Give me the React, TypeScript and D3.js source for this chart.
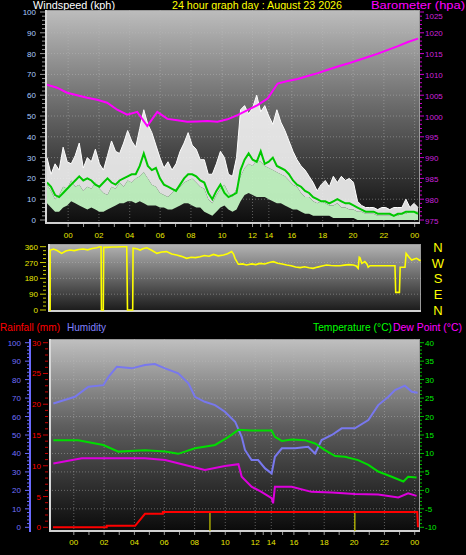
import React from "react";
import * as d3 from "d3";

// ---------- DATA ----------
const xTickLabels = ["00", "02", "04", "06", "08", "10", "12", "14", "16", "18", "20", "22", "00"];
// tick positions in per-mille of the sampled span
const xTickPos = [57, 140, 223, 305, 388, 472, 554, 598, 660, 743, 825, 908, 991];

// wind (kph), evenly sampled across the span
const gust = [30, 22, 27, 24, 35, 28, 27, 31, 37, 25, 30, 28, 34, 27, 24, 31, 38, 33, 32, 37, 43, 38, 35, 44, 53, 46, 42, 36, 30, 25, 28, 24, 27, 33, 37, 42, 36, 34, 29, 29, 22, 22, 27, 33, 30, 22, 21, 30, 53, 55, 51, 54, 60, 52, 55, 50, 46, 53, 47, 43, 38, 33, 29, 26, 24, 21, 18, 14, 17, 19, 16, 21, 18, 21, 19, 20, 18, 9, 7, 6, 6, 6, 5, 6, 6, 5, 6, 6, 6, 10, 6, 8, 6];
const windHigh = [17, 14, 10, 12, 16, 15, 19, 16, 17, 14, 16, 15, 18, 15, 13, 12, 16, 15, 18, 16, 19, 18, 20, 21, 23, 20, 17, 16, 13, 12, 11, 13, 15, 16, 18, 19, 20, 18, 16, 15, 10, 8, 12, 15, 17, 13, 11, 15, 21, 25, 27, 26, 29, 28, 26, 25, 24, 23, 22, 21, 19, 17, 16, 13, 11, 11, 9, 8, 9, 8, 7, 7, 8, 6, 6, 5, 5, 4, 4, 3, 3, 3, 2, 2, 2, 2, 2, 2, 3, 3, 4, 4, 4];
const windLow = [8, 6, 4, 4, 6, 7, 9, 8, 7, 6, 5, 6, 5, 4, 4, 5, 6, 7, 8, 8, 9, 9, 8, 9, 8, 7, 7, 7, 6, 6, 5, 5, 6, 7, 8, 8, 7, 6, 6, 4, 3, 2, 4, 6, 7, 5, 4, 5, 9, 12, 13, 12, 11, 11, 11, 10, 9, 8, 8, 7, 6, 5, 5, 4, 3, 3, 2, 2, 2, 2, 2, 1, 1, 1, 1, 1, 1, 0, 0, 0, 0, 0, 0, 0, 0, 0, 0, 0, 0, 0, 0, 0, 0];
const windAvg = [18, 16, 12, 11, 13, 15, 17, 19, 21, 19, 20, 19, 17, 16, 18, 20, 18, 17, 19, 20, 21, 22, 22, 26, 32, 26, 24, 25, 20, 17, 16, 15, 14, 17, 20, 22, 22, 21, 19, 18, 13, 10, 14, 17, 13, 11, 12, 13, 24, 29, 32, 29, 28, 33, 27, 28, 30, 26, 25, 24, 22, 19, 17, 16, 14, 13, 11, 10, 9, 9, 8, 9, 10, 9, 8, 8, 7, 6, 5, 4, 4, 4, 3, 3, 3, 3, 2, 3, 3, 4, 4, 4, 3];
// barometer (hPa), evenly sampled
const baro = [1007.5, 1006.8, 1005.6, 1005.0, 1004.4, 1003.9, 1003.2, 1001.5, 1000.3, 1001.0, 997.6, 1001.0, 999.3, 999.0, 998.6, 998.7, 998.8, 998.6, 999.2, 1000.2, 1001.4, 1002.6, 1004.2, 1007.8, 1008.4, 1008.9, 1009.6, 1010.3, 1011.1, 1011.9, 1012.6, 1013.4, 1014.2, 1015.0, 1015.9, 1016.8, 1017.8, 1018.6];

// wind direction [position, degrees]
const windDir: [number, number][] = [[0, 0], [3, 0], [3, 340], [12, 347], [22, 338], [34, 322], [45, 335], [56, 341], [68, 338], [80, 344], [92, 347], [104, 342], [116, 350], [128, 354], [137, 360], [140, 360], [141, 0], [146, 0], [147, 356], [155, 356], [170, 358], [182, 358], [195, 360], [209, 360], [211, 0], [225, 0], [226, 351], [236, 348], [245, 341], [254, 350], [263, 354], [276, 340], [290, 322], [303, 330], [316, 332], [330, 318], [343, 313], [356, 305], [370, 294], [382, 300], [394, 298], [406, 303], [418, 310], [430, 306], [442, 316], [455, 308], [469, 313], [480, 320], [491, 332], [496, 318], [500, 294], [509, 260], [520, 262], [531, 256], [545, 262], [556, 258], [567, 265], [580, 262], [592, 270], [603, 275], [615, 266], [627, 262], [639, 256], [651, 252], [663, 245], [675, 241], [687, 246], [699, 240], [710, 237], [722, 244], [734, 250], [746, 256], [758, 253], [770, 252], [782, 252], [794, 255], [806, 258], [818, 256], [826, 250], [831, 237], [834, 300], [836, 297], [841, 265], [849, 275], [855, 260], [858, 243], [863, 252], [930, 252], [932, 100], [942, 100], [944, 243], [957, 243], [960, 322], [968, 300], [975, 284], [982, 290], [988, 294], [994, 286], [999, 280]];

// bottom chart [position, value]
const humidity: [number, number][] = [[1, 67.1], [60, 70.7], [97, 76.1], [138, 77], [152, 81.5], [175, 87], [216, 86.1], [252, 87.9], [279, 88.4], [307, 86.1], [343, 83.4], [371, 78], [389, 70.7], [416, 68], [444, 66.2], [471, 62.6], [499, 57.2], [517, 49], [526, 41.9], [544, 36.4], [562, 36.4], [581, 31.9], [599, 29.2], [608, 38.2], [627, 42.8], [663, 42.8], [699, 43.6], [718, 40], [736, 47.3], [764, 50], [791, 53.6], [827, 53.6], [864, 58.1], [891, 66.2], [919, 70.7], [937, 74.3], [964, 76.7], [983, 73.4], [999, 72.9]];
const temperature: [number, number][] = [[1, 13.6], [69, 13.6], [138, 12.3], [179, 10.5], [252, 10.9], [307, 10.5], [343, 9.9], [389, 11.4], [444, 12.3], [481, 14.5], [508, 16.4], [544, 16.2], [599, 16.2], [608, 14.5], [627, 13.4], [654, 13.8], [690, 13.6], [718, 12.7], [745, 10.9], [773, 9.3], [800, 9.1], [836, 8.2], [864, 6.9], [891, 5.1], [928, 3.7], [960, 2.4], [973, 3.7], [996, 3.5]];
const dewPoint: [number, number][] = [[1, 7.3], [79, 8.7], [138, 8.7], [252, 8.7], [307, 8.2], [362, 6.9], [416, 5.5], [471, 6.6], [508, 7.1], [517, 3.7], [544, 1.0], [571, -0.4], [599, -2.1], [603, -3.5], [608, 1.0], [654, 1.0], [708, -0.4], [764, -0.6], [827, -1.0], [891, -1.1], [946, -1.9], [973, -0.8], [996, -1.5]];
const rainfall: [number, number][] = [[0, 0], [147, 0], [147, 0.25], [225, 0.25], [252, 2.2], [301, 2.2], [301, 2.5], [998, 2.5], [1000, 0]];
const rainMarks = [430, 827];

const windTicks = d3.range(0, 101, 10);
const baroTicks = d3.range(975, 1026, 5);
const dirTicks = [0, 90, 180, 270, 360];
const compass = ["N", "W", "S", "E", "N"];
const humTicks = d3.range(0, 101, 10);
const rainTicks = d3.range(0, 31, 5);
const tempTicks = d3.range(-10, 41, 5);

// ---------- LAYOUT ----------
const W = 466, H = 555;
const FONT = "'Liberation Sans', Arial, sans-serif";
const top = { x0: 45, x1: 420, y0: 10, y1: 224 };
const mid = { x0: 48, x1: 421, y0: 244, y1: 312 };
const bot = { x0: 49, x1: 420, y0: 339, y1: 532 };

const xTop = d3.scaleLinear().domain([0, 1000]).range([47, 418]);
const xMid = d3.scaleLinear().domain([0, 1000]).range([49, 421]);
const xBot = d3.scaleLinear().domain([0, 1000]).range([53, 418]);
const yWind = d3.scaleLinear().domain([0, 100]).range([220, 12]);
const yBaro = d3.scaleLinear().domain([975, 1025]).range([220, 12]);
const yDir = d3.scaleLinear().domain([0, 360]).range([310, 246.7]);
const yHum = d3.scaleLinear().domain([0, 100]).range([527.3, 342.7]);
const yTemp = d3.scaleLinear().domain([-10, 40]).range([527.3, 342.7]);
const yRain = d3.scaleLinear().domain([0, 30]).range([527.3, 342.7]);

const kPos = (i: number, n: number) => (i / (n - 1)) * 1000;

function Frame({ b, id }: { b: typeof top; id: string }) {
  return (
    <g>
      <rect x={b.x0} y={b.y0} width={b.x1 - b.x0} height={b.y1 - b.y0} fill={`url(#${id})`} />
      <rect x={b.x0 + 0.5} y={b.y0 + 0.5} width={b.x1 - b.x0 - 1} height={b.y1 - b.y0 - 1} fill="none" stroke="#9a9a9a" strokeWidth={1} />
      <line x1={b.x0 + 1} x2={b.x0 + 1} y1={b.y0} y2={b.y1} stroke="#d8d8d8" strokeWidth={2} />
      <line x1={b.x0} x2={b.x1} y1={b.y1 - 1} y2={b.y1 - 1} stroke="#d0d0d0" strokeWidth={2} />
    </g>
  );
}

export default function App() {
  const n = gust.length;
  const whiteArea = d3.area<number>()
    .x((_, i) => xTop(kPos(i, n)))
    .y0((_, i) => yWind(windHigh[i]))
    .y1((d) => yWind(d));
  const greenArea = d3.area<number>()
    .x((_, i) => xTop(kPos(i, n)))
    .y0((_, i) => yWind(windLow[i]))
    .y1((d) => yWind(d));
  const lineK = (ys: (v: number) => number, len: number) =>
    d3.line<number>().x((_, i) => xTop(kPos(i, len))).y((d) => ys(d));
  const pairLine = (xs: d3.ScaleLinear<number, number>, ys: d3.ScaleLinear<number, number>) =>
    d3.line<[number, number]>().x((d) => xs(d[0])).y((d) => ys(d[1]));

  const minorTicks = d3.pairs(xTickPos).map(([a, b]) => (a + b) / 2);
  const gridStroke = { stroke: "#bcbcbc", strokeOpacity: 0.45, strokeDasharray: "1 2", strokeWidth: 1 };

  return (
    <svg width={W} height={H} style={{ position: "absolute", left: 0, top: 0, background: "#000" }} fontFamily={FONT}>
      <defs>
        <linearGradient id="gTop" x1="0" y1="0" x2="0" y2="1">
          <stop offset="0" stopColor="#bdbdbd" />
          <stop offset="0.45" stopColor="#6a6a6a" />
          <stop offset="1" stopColor="#0c0c0c" />
        </linearGradient>
        <linearGradient id="gMid" x1="0" y1="0" x2="0" y2="1">
          <stop offset="0" stopColor="#b4b4b4" />
          <stop offset="1" stopColor="#181818" />
        </linearGradient>
        <linearGradient id="gBot" x1="0" y1="0" x2="0" y2="1">
          <stop offset="0" stopColor="#c0c0c0" />
          <stop offset="0.45" stopColor="#5e5e5e" />
          <stop offset="1" stopColor="#0a0a0a" />
        </linearGradient>
        <clipPath id="cTop"><rect x={top.x0 + 2} y={top.y0} width={top.x1 - top.x0 - 2} height={top.y1 - top.y0 - 2} /></clipPath>
        <clipPath id="cMid"><rect x={mid.x0} y={mid.y0} width={mid.x1 - mid.x0} height={mid.y1 - mid.y0} /></clipPath>
        <clipPath id="cBot"><rect x={bot.x0 + 2} y={bot.y0} width={bot.x1 - bot.x0 - 2} height={bot.y1 - bot.y0 - 1} /></clipPath>
      </defs>

      {/* ---------- Header ---------- */}
      <text x={33} y={9.2} fontSize={10} fill="#ffffff" textLength={82} lengthAdjust="spacingAndGlyphs">Windspeed (kph)</text>
      <text x={172} y={9.2} fontSize={10} fill="#ffff00" textLength={170} lengthAdjust="spacingAndGlyphs">24 hour graph day : August 23 2026</text>
      <text x={371} y={9.2} fontSize={10} fill="#ff00ff" textLength={94} lengthAdjust="spacingAndGlyphs">Barometer (hpa)</text>

      {/* ---------- Top chart ---------- */}
      <Frame b={top} id="gTop" />
      <g clipPath="url(#cTop)">
        {windTicks.slice(1, -1).map((t) => (
          <line key={t} x1={top.x0} x2={top.x1} y1={yWind(t)} y2={yWind(t)} {...gridStroke} />
        ))}
        {xTickPos.map((p, i) => (
          <line key={i} x1={xTop(p)} x2={xTop(p)} y1={top.y0} y2={top.y1} {...gridStroke} />
        ))}
        <path d={whiteArea(gust) || ""} fill="#f2f2f2" fillOpacity={0.9} />
        <path d={lineK(yWind, n)(gust) || ""} fill="none" stroke="#ffffff" strokeWidth={1} />
        <path d={greenArea(windHigh) || ""} fill="#c2f4c2" fillOpacity={0.95} />
        <path d={lineK(yWind, n)(windAvg) || ""} fill="none" stroke="#00c800" strokeWidth={2} />
        <path d={lineK(yBaro, baro.length)(baro) || ""} fill="none" stroke="#ff00ff" strokeWidth={2} />
      </g>
      {d3.range(0, 101, 2).map((t) => (
        <line key={t} x1={t % 10 === 0 ? 40 : 42} x2={45} y1={yWind(t)} y2={yWind(t)} stroke="#9a9a9a" strokeWidth={1} />
      ))}
      {windTicks.map((t) => (
        <text key={t} x={36} y={yWind(t) + 3} fontSize={8} fill="#a8ccff" textAnchor="end">{t}</text>
      ))}
      {d3.range(975, 1026, 1).map((t) => (
        <line key={t} x1={420} x2={t % 5 === 0 ? 424 : 422} y1={yBaro(t)} y2={yBaro(t)} stroke="#cc00cc" strokeWidth={1} />
      ))}
      {baroTicks.map((t) => (
        <text key={t} x={425} y={Math.max(yBaro(t) + 3.5, 18.8)} fontSize={8} fill="#cc22dd">{t}</text>
      ))}
      {[...xTickPos, ...minorTicks].map((p, i) => (
        <line key={i} x1={xTop(p)} x2={xTop(p)} y1={top.y1} y2={top.y1 + 3} stroke="#9a9a9a" />
      ))}
      {xTickPos.map((p, i) => (
        <text key={i} x={xTop(p)} y={238} fontSize={8} fill="#e8e800" textAnchor="middle">{xTickLabels[i]}</text>
      ))}

      {/* ---------- Middle chart ---------- */}
      <Frame b={mid} id="gMid" />
      <g clipPath="url(#cMid)">
        {[90, 180, 270].map((t) => (
          <line key={t} x1={mid.x0} x2={mid.x1} y1={yDir(t)} y2={yDir(t)} {...gridStroke} />
        ))}
        <path d={pairLine(xMid, yDir)(windDir) || ""} fill="none" stroke="#ffff00" strokeWidth={1.6} />
      </g>
      {d3.range(0, 361, 22.5).map((t) => (
        <line key={t} x1={t % 90 === 0 ? 40 : 43} x2={46} y1={yDir(t)} y2={yDir(t)} stroke="#cccc00" strokeWidth={1} />
      ))}
      {dirTicks.map((t) => (
        <text key={t} x={38} y={yDir(t) + 3} fontSize={8} fill="#e8e800" textAnchor="end">{t}</text>
      ))}
      {compass.map((c, i) => (
        <text key={i} x={438} y={yDir(dirTicks[dirTicks.length - 1 - i]) + 5} fontSize={13} fill="#ffff00" textAnchor="middle">{c}</text>
      ))}

      {/* ---------- Bottom chart header ---------- */}
      <text x={0} y={330.5} fontSize={11} fill="#ff0000" textLength={60} lengthAdjust="spacingAndGlyphs">Rainfall (mm)</text>
      <text x={67} y={330.5} fontSize={11} fill="#8080ff" textLength={39} lengthAdjust="spacingAndGlyphs">Humidity</text>
      <text x={313} y={330.5} fontSize={11} fill="#00ff00" textLength={79} lengthAdjust="spacingAndGlyphs">Temperature (°C)</text>
      <text x={393} y={330.5} fontSize={11} fill="#ff00ff" textLength={69} lengthAdjust="spacingAndGlyphs">Dew Point (°C)</text>

      {/* ---------- Bottom chart ---------- */}
      <Frame b={bot} id="gBot" />
      <g clipPath="url(#cBot)">
        {humTicks.slice(1, -1).map((t) => (
          <line key={t} x1={bot.x0} x2={bot.x1} y1={yHum(t)} y2={yHum(t)} {...gridStroke} />
        ))}
        {xTickPos.map((p, i) => (
          <line key={i} x1={xBot(p)} x2={xBot(p)} y1={bot.y0} y2={bot.y1} {...gridStroke} />
        ))}
        {rainMarks.map((p, i) => (
          <line key={i} x1={xBot(p)} x2={xBot(p)} y1={yRain(2.5)} y2={bot.y1} stroke="#cccc00" strokeWidth={1.2} />
        ))}
        <path d={pairLine(xBot, yHum)(humidity) || ""} fill="none" stroke="#7878ee" strokeWidth={2} />
        <path d={pairLine(xBot, yTemp)(temperature) || ""} fill="none" stroke="#00dd00" strokeWidth={2} />
        <path d={pairLine(xBot, yTemp)(dewPoint) || ""} fill="none" stroke="#dd00dd" strokeWidth={2} />
        <path d={pairLine(xBot, yRain)(rainfall) || ""} fill="none" stroke="#ff0000" strokeWidth={2} />
      </g>
      <line x1={30} x2={30} y1={bot.y0} y2={bot.y1} stroke="#6a6aff" strokeWidth={2} />
      {d3.range(0, 101, 2).map((t) => (
        <line key={t} x1={t % 10 === 0 ? 25 : 27} x2={30} y1={yHum(t)} y2={yHum(t)} stroke="#6a6aff" strokeWidth={1} />
      ))}
      {humTicks.map((t) => (
        <text key={t} x={21} y={yHum(t) + 3} fontSize={8} fill="#7070ff" textAnchor="end">{t}</text>
      ))}
      {d3.range(0, 31, 1).map((t) => (
        <line key={t} x1={t % 5 === 0 ? 43 : 45} x2={48} y1={yRain(t)} y2={yRain(t)} stroke="#cc0000" strokeWidth={1} />
      ))}
      {rainTicks.map((t) => (
        <text key={t} x={41} y={yRain(t) + 3} fontSize={8} fill="#ff0000" textAnchor="end">{t}</text>
      ))}
      {d3.range(-10, 41, 1).map((t) => (
        <line key={t} x1={420} x2={t % 5 === 0 ? 424 : 422} y1={yTemp(t)} y2={yTemp(t)} stroke="#00bb00" strokeWidth={1} />
      ))}
      {tempTicks.map((t) => (
        <text key={t} x={425} y={yTemp(t) + 3} fontSize={8} fill="#00ee00">{t}</text>
      ))}
      {[...xTickPos, ...minorTicks].map((p, i) => (
        <line key={i} x1={xBot(p)} x2={xBot(p)} y1={bot.y1} y2={bot.y1 + 3} stroke="#9a9a9a" />
      ))}
      {xTickPos.map((p, i) => (
        <text key={i} x={xBot(p)} y={544.5} fontSize={8} fill="#e8e800" textAnchor="middle">{xTickLabels[i]}</text>
      ))}
    </svg>
  );
}
